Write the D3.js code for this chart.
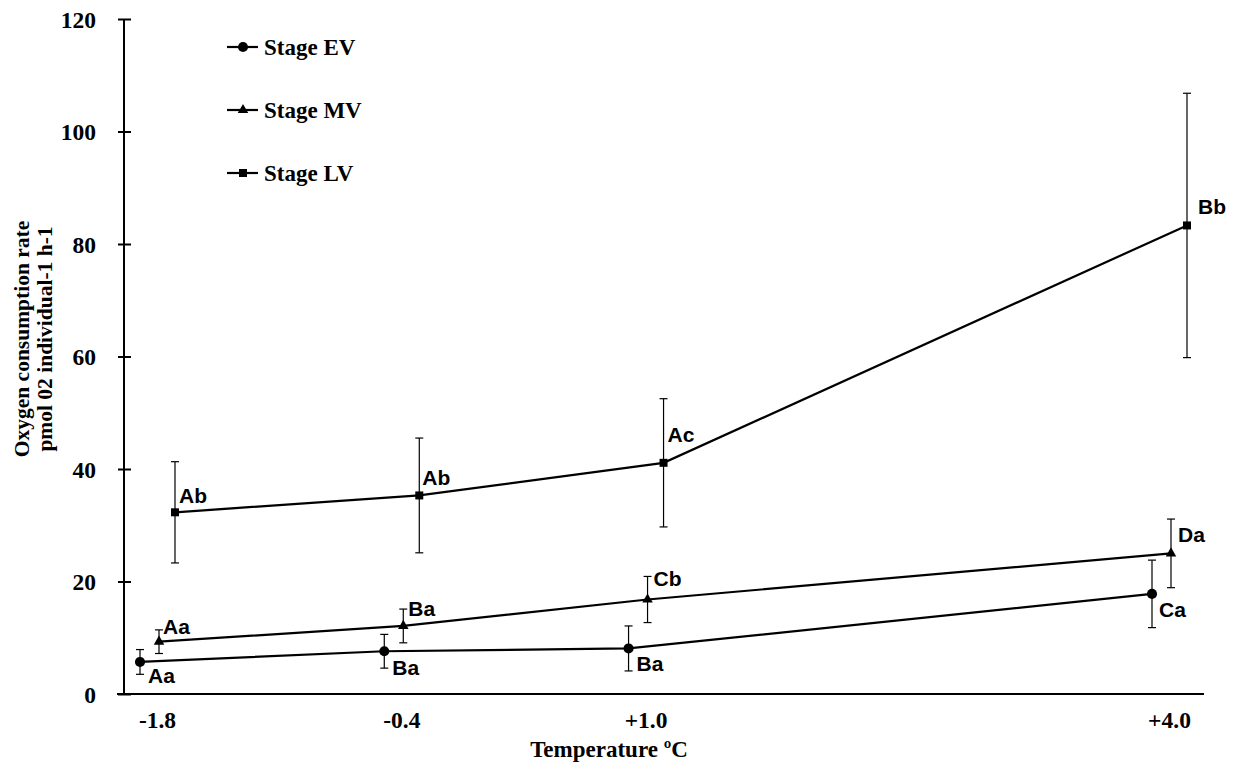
<!DOCTYPE html>
<html>
<head>
<meta charset="utf-8">
<script src="https://cdn.jsdelivr.net/npm/d3@7"></script>
<style>
  html, body { margin: 0; padding: 0; background: #fff; }
  svg { display: block; }
</style>
</head>
<body>
<svg id="chart" width="1234" height="766"></svg>
<script>
// Temperatures (°C) and their axis labels
const temps = [-1.8, -0.4, 1.0, 4.0];
const tempLabels = ["-1.8", "-0.4", "+1.0", "+4.0"];
const yTicks = [0, 20, 40, 60, 80, 100, 120];

// Mean oxygen consumption per stage, with SD
const stageNames = ["Stage EV", "Stage MV", "Stage LV"];
const evMean = [5.7, 7.6, 8.1, 17.8];
const evSD = [2.2, 3.0, 4.0, 6.0];
const mvMean = [9.3, 12.1, 16.8, 25.0];
const mvSD = [2.1, 3.0, 4.1, 6.1];
const lvMean = [32.3, 35.3, 41.1, 83.3];
const lvSD = [9.0, 10.2, 11.4, 23.5];

// Significance letters
const evLetters = ["Aa", "Ba", "Ba", "Ca"];
const mvLetters = ["Aa", "Ba", "Cb", "Da"];
const lvLetters = ["Ab", "Ab", "Ac", "Bb"];

const serif = "'Liberation Serif', 'Times New Roman', serif";
const sans = "'Liberation Sans', Arial, sans-serif";

const svg = d3.select("#chart");

const x = d3.scaleLinear().domain([-1.8, 4.0]).range([157, 1169]);
const y = d3.scaleLinear().domain([0, 120]).range([694, 19]);
const axisX = 124;

// Layout of each series: horizontal dodge, marker, label placement
const series = [
  { name: stageNames[0], mean: evMean, sd: evSD, letters: evLetters,
    dodge: -17, symbol: d3.symbolCircle, size: 80,
    ldx: [8, 8, 8, 7], ldy: [21, 24, 23, 23] },
  { name: stageNames[1], mean: mvMean, sd: mvSD, letters: mvLetters,
    dodge: 2, symbol: d3.symbolTriangle, size: 48,
    ldx: [4, 5, 6, 7], ldy: [-8, -10, -14, -11] },
  { name: stageNames[2], mean: lvMean, sd: lvSD, letters: lvLetters,
    dodge: 18, symbol: d3.symbolSquare, size: 64,
    ldx: [4, 3, 4, 11], ldy: [-9, -10, -21, -11] }
];

// Y axis with ticks crossing the axis line
const gy = svg.append("g")
  .attr("transform", `translate(${axisX},0)`)
  .call(d3.axisLeft(y).tickValues(yTicks).tickSize(6).tickSizeOuter(0).tickPadding(22));
gy.select(".domain").remove();
gy.selectAll(".tick line").attr("x1", -6).attr("x2", 7).attr("stroke", "#000").attr("stroke-width", 2);
gy.selectAll(".tick text")
  .attr("font-family", serif).attr("font-weight", "bold").attr("font-size", 23.5)
  .attr("fill", "#000").attr("dy", "0.34em");
svg.append("line")
  .attr("x1", axisX).attr("x2", axisX).attr("y1", y(120)).attr("y2", y(0))
  .attr("stroke", "#000").attr("stroke-width", 2);

// X axis
const gx = svg.append("g")
  .attr("transform", `translate(0,${y(0)})`)
  .call(d3.axisBottom(x).tickValues(temps).tickFormat((d, i) => tempLabels[i])
    .tickSize(0).tickPadding(17));
gx.select(".domain").remove();
gx.selectAll(".tick text")
  .attr("font-family", serif).attr("font-weight", "bold").attr("font-size", 23.5)
  .attr("fill", "#000");
svg.append("line")
  .attr("x1", 117).attr("x2", 1204).attr("y1", y(0)).attr("y2", y(0))
  .attr("stroke", "#000").attr("stroke-width", 2);

// Axis titles
svg.append("text")
  .attr("x", 609).attr("y", 757).attr("text-anchor", "middle")
  .attr("font-family", serif).attr("font-weight", "bold").attr("font-size", 23)
  .text("Temperature ºC");

const yTitle = svg.append("text")
  .attr("transform", "translate(29,339) rotate(-90)")
  .attr("text-anchor", "middle")
  .attr("font-family", serif).attr("font-weight", "bold").attr("font-size", 21.5);
yTitle.append("tspan").attr("x", 0).attr("y", 0).text("Oxygen consumption rate");
yTitle.append("tspan").attr("x", 0).attr("y", 23).text("pmol 02 individual-1 h-1");

// Series: error bars, lines, markers, letters
series.forEach(s => {
  const px = i => x(temps[i]) + s.dodge;
  const pts = temps.map((t, i) => ({ i, v: s.mean[i], e: s.sd[i] }));

  const eb = svg.append("g").attr("stroke", "#000").attr("stroke-width", 1.2);
  pts.forEach(p => {
    const cx = px(p.i);
    eb.append("line").attr("x1", cx).attr("x2", cx)
      .attr("y1", y(p.v + p.e)).attr("y2", y(p.v - p.e));
    eb.append("line").attr("x1", cx - 4).attr("x2", cx + 4)
      .attr("y1", y(p.v + p.e)).attr("y2", y(p.v + p.e));
    eb.append("line").attr("x1", cx - 4).attr("x2", cx + 4)
      .attr("y1", y(p.v - p.e)).attr("y2", y(p.v - p.e));
  });

  svg.append("path")
    .datum(pts)
    .attr("fill", "none").attr("stroke", "#000").attr("stroke-width", 2.2)
    .attr("d", d3.line().x(p => px(p.i)).y(p => y(p.v)));

  svg.append("g").selectAll("path")
    .data(pts).join("path")
    .attr("transform", p => `translate(${px(p.i)},${y(p.v)})`)
    .attr("d", d3.symbol(s.symbol, s.size))
    .attr("fill", "#000");

  svg.append("g").selectAll("text")
    .data(pts).join("text")
    .attr("x", p => px(p.i) + s.ldx[p.i])
    .attr("y", p => y(p.v) + s.ldy[p.i])
    .attr("font-family", sans).attr("font-weight", "bold").attr("font-size", 21)
    .attr("fill", "#000")
    .text(p => s.letters[p.i]);
});

// Legend
const legendY = [47, 110, 173];
series.forEach((s, k) => {
  const g = svg.append("g").attr("transform", `translate(227,${legendY[k]})`);
  g.append("line").attr("x1", 0).attr("x2", 31).attr("stroke", "#000").attr("stroke-width", 2.2);
  g.append("path").attr("transform", "translate(16,0)")
    .attr("d", d3.symbol(s.symbol, s.size)).attr("fill", "#000");
  g.append("text").attr("x", 37).attr("y", 0).attr("dy", "0.34em")
    .attr("font-family", serif).attr("font-weight", "bold").attr("font-size", 23)
    .text(s.name);
});
</script>
</body>
</html>
